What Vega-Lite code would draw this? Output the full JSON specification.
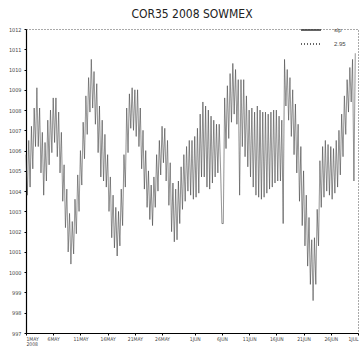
{
  "$schema": "https://vega.github.io/schema/vega-lite/v6.json",
  "autosize": {"type": "none"},
  "padding": {"left": 26, "top": 29, "right": 2, "bottom": 14},
  "width": 332,
  "height": 304,
  "background": "white",
  "title": {"text": "COR35 2008 SOWMEX", "font": "DejaVu Sans Condensed", "fontSize": 12, "fontWeight": "normal", "color": "#222", "offset": -2},
  "config": {
    "view": {"stroke": "#555", "strokeDash": [1, 2], "strokeWidth": 1},
    "axis": {"grid": false, "labelFont": "DejaVu Sans Condensed", "labelFontSize": 5.5, "labelColor": "#444", "domainColor": "#000", "domainWidth": 1.2, "tickColor": "#000", "tickSize": 2, "title": null}
  },
  "data": {"values": [
    {"d":0,"p":1005.8},{"d":0.25,"p":1003.8},{"d":0.5,"p":1006.5},{"d":0.75,"p":1004.2},
    {"d":1,"p":1007.2},{"d":1.25,"p":1005.1},{"d":1.5,"p":1008.1},{"d":1.75,"p":1006.2},
    {"d":2,"p":1009.1},{"d":2.25,"p":1006.2},{"d":2.5,"p":1008.1},{"d":2.75,"p":1004.9},
    {"d":3,"p":1006.9},{"d":3.25,"p":1003.8},{"d":3.5,"p":1006.4},{"d":3.75,"p":1004.5},
    {"d":4,"p":1007.5},{"d":4.25,"p":1005.3},{"d":4.5,"p":1008.0},{"d":4.75,"p":1005.9},
    {"d":5,"p":1008.6},{"d":5.25,"p":1006.4},{"d":5.5,"p":1008.6},{"d":5.75,"p":1005.7},
    {"d":6,"p":1007.9},{"d":6.25,"p":1004.9},{"d":6.5,"p":1006.9},{"d":6.75,"p":1003.5},
    {"d":7,"p":1005.3},{"d":7.25,"p":1002.2},{"d":7.5,"p":1004.1},{"d":7.75,"p":1001.0},
    {"d":8,"p":1002.9},{"d":8.25,"p":1000.4},{"d":8.5,"p":1002.5},{"d":8.75,"p":1000.9},
    {"d":9,"p":1003.6},{"d":9.25,"p":1001.9},{"d":9.5,"p":1004.8},{"d":9.75,"p":1003.0},
    {"d":10,"p":1006.0},{"d":10.25,"p":1004.3},{"d":10.5,"p":1007.4},{"d":10.75,"p":1005.6},
    {"d":11,"p":1008.7},{"d":11.25,"p":1006.8},{"d":11.5,"p":1009.6},{"d":11.75,"p":1007.9},
    {"d":12,"p":1010.5},{"d":12.25,"p":1008.1},{"d":12.5,"p":1009.9},{"d":12.75,"p":1007.3},
    {"d":13,"p":1009.3},{"d":13.25,"p":1005.9},{"d":13.5,"p":1008.2},{"d":13.75,"p":1004.7},
    {"d":14,"p":1007.5},{"d":14.25,"p":1004.5},{"d":14.5,"p":1006.8},{"d":14.75,"p":1004.2},
    {"d":15,"p":1005.8},{"d":15.25,"p":1003.0},{"d":15.5,"p":1004.7},{"d":15.75,"p":1001.7},
    {"d":16,"p":1003.8},{"d":16.25,"p":1001.2},{"d":16.5,"p":1003.2},{"d":16.75,"p":1000.8},
    {"d":17,"p":1003.0},{"d":17.25,"p":1001.3},{"d":17.5,"p":1004.1},{"d":17.75,"p":1002.3},
    {"d":18,"p":1005.8},{"d":18.25,"p":1004.2},{"d":18.5,"p":1008.1},{"d":18.75,"p":1005.9},
    {"d":19,"p":1008.8},{"d":19.25,"p":1007.1},{"d":19.5,"p":1009.1},{"d":19.75,"p":1007.0},
    {"d":20,"p":1009.0},{"d":20.25,"p":1006.7},{"d":20.5,"p":1009.0},{"d":20.75,"p":1006.2},
    {"d":21,"p":1008.1},{"d":21.25,"p":1005.1},{"d":21.5,"p":1007.0},{"d":21.75,"p":1004.1},
    {"d":22,"p":1006.0},{"d":22.25,"p":1003.2},{"d":22.5,"p":1005.0},{"d":22.75,"p":1002.6},
    {"d":23,"p":1004.3},{"d":23.25,"p":1002.3},{"d":23.5,"p":1004.7},{"d":23.75,"p":1003.2},
    {"d":24,"p":1005.8},{"d":24.25,"p":1004.0},{"d":24.5,"p":1006.5},{"d":24.75,"p":1004.8},
    {"d":25,"p":1007.2},{"d":25.25,"p":1005.4},{"d":25.5,"p":1007.1},{"d":25.75,"p":1004.5},
    {"d":26,"p":1006.5},{"d":26.25,"p":1003.3},{"d":26.5,"p":1005.4},{"d":26.75,"p":1002.0},
    {"d":27,"p":1004.4},{"d":27.25,"p":1001.5},{"d":27.5,"p":1004.1},{"d":27.75,"p":1001.6},
    {"d":28,"p":1004.5},{"d":28.25,"p":1002.4},{"d":28.5,"p":1005.2},{"d":28.75,"p":1003.1},
    {"d":29,"p":1005.8},{"d":29.25,"p":1003.5},{"d":29.5,"p":1006.2},{"d":29.75,"p":1004.0},
    {"d":30,"p":1006.5},{"d":30.25,"p":1003.8},{"d":30.5,"p":1006.5},{"d":30.75,"p":1003.6},
    {"d":31,"p":1006.7},{"d":31.25,"p":1003.7},{"d":31.5,"p":1007.1},{"d":31.75,"p":1003.9},
    {"d":32,"p":1007.8},{"d":32.25,"p":1004.7},{"d":32.5,"p":1008.4},{"d":32.75,"p":1004.7},
    {"d":33,"p":1008.2},{"d":33.25,"p":1004.2},{"d":33.5,"p":1008.0},{"d":33.75,"p":1004.1},
    {"d":34,"p":1007.7},{"d":34.25,"p":1004.4},{"d":34.5,"p":1007.5},{"d":34.75,"p":1004.7},
    {"d":35,"p":1007.3},{"d":35.25,"p":1004.9},{"d":35.5,"p":1007.3},{"d":35.75,"p":1005.1},
    {"d":36,"p":1002.4},{"d":36.25,"p":1002.4},{"d":36.5,"p":1008.6},{"d":36.75,"p":1006.1},
    {"d":37,"p":1009.2},{"d":37.25,"p":1006.6},{"d":37.5,"p":1009.8},{"d":37.75,"p":1007.4},
    {"d":38,"p":1010.3},{"d":38.25,"p":1007.8},{"d":38.5,"p":1010.0},{"d":38.75,"p":1007.3},
    {"d":39,"p":1009.5},{"d":39.25,"p":1003.8},{"d":39.5,"p":1009.5},{"d":39.75,"p":1006.2},
    {"d":40,"p":1009.5},{"d":40.25,"p":1005.7},{"d":40.5,"p":1008.7},{"d":40.75,"p":1005.2},
    {"d":41,"p":1008.0},{"d":41.25,"p":1004.7},{"d":41.5,"p":1008.1},{"d":41.75,"p":1004.2},
    {"d":42,"p":1007.9},{"d":42.25,"p":1003.8},{"d":42.5,"p":1008.2},{"d":42.75,"p":1003.7},
    {"d":43,"p":1008.0},{"d":43.25,"p":1003.6},{"d":43.5,"p":1007.9},{"d":43.75,"p":1003.7},
    {"d":44,"p":1007.9},{"d":44.25,"p":1003.9},{"d":44.5,"p":1007.8},{"d":44.75,"p":1004.1},
    {"d":45,"p":1007.9},{"d":45.25,"p":1004.2},{"d":45.5,"p":1008.0},{"d":45.75,"p":1004.4},
    {"d":46,"p":1008.0},{"d":46.25,"p":1004.5},{"d":46.5,"p":1007.7},{"d":46.75,"p":1004.5},
    {"d":47,"p":1007.5},{"d":47.25,"p":1002.4},{"d":47.5,"p":1010.5},{"d":47.75,"p":1008.2},
    {"d":48,"p":1010.0},{"d":48.25,"p":1007.5},{"d":48.5,"p":1009.6},{"d":48.75,"p":1006.7},
    {"d":49,"p":1009.0},{"d":49.25,"p":1005.8},{"d":49.5,"p":1008.3},{"d":49.75,"p":1004.9},
    {"d":50,"p":1007.3},{"d":50.25,"p":1003.5},{"d":50.5,"p":1006.2},{"d":50.75,"p":1002.3},
    {"d":51,"p":1005.0},{"d":51.25,"p":1001.3},{"d":51.5,"p":1003.8},{"d":51.75,"p":1000.3},
    {"d":52,"p":1002.7},{"d":52.25,"p":999.4},{"d":52.5,"p":1001.6},{"d":52.75,"p":998.6},
    {"d":53,"p":1001.7},{"d":53.25,"p":999.4},{"d":53.5,"p":1003.1},{"d":53.75,"p":1001.3},
    {"d":54,"p":1005.5},{"d":54.25,"p":1003.2},{"d":54.5,"p":1006.2},{"d":54.75,"p":1003.7},
    {"d":55,"p":1006.5},{"d":55.25,"p":1004.0},{"d":55.5,"p":1006.3},{"d":55.75,"p":1003.8},
    {"d":56,"p":1006.2},{"d":56.25,"p":1003.6},{"d":56.5,"p":1006.1},{"d":56.75,"p":1003.9},
    {"d":57,"p":1006.5},{"d":57.25,"p":1004.2},{"d":57.5,"p":1007.0},{"d":57.75,"p":1004.8},
    {"d":58,"p":1007.8},{"d":58.25,"p":1005.7},{"d":58.5,"p":1008.7},{"d":58.75,"p":1006.8},
    {"d":59,"p":1009.5},{"d":59.25,"p":1007.9},{"d":59.5,"p":1010.1},{"d":59.75,"p":1008.4},
    {"d":60,"p":1010.5},{"d":60.25,"p":1004.5},{"d":60.5,"p":1010.8}
  ]},
  "mark": {"type": "line", "stroke": "#3a3a3a", "strokeWidth": 0.6, "strokeDash": [1, 1], "interpolate": "linear"},
  "encoding": {
    "x": {"field": "d", "type": "quantitative",
      "scale": {"domain": [0, 61], "nice": false, "zero": false},
      "axis": {"values": [0,5,10,15,20,25,31,36,41,46,51,56,61],
        "labelExpr": "datum.index == 0 ? [upper(timeFormat(datetime(2008,4,1+datum.value),'%-d%b')), '2008'] : upper(timeFormat(datetime(2008,4,1+datum.value),'%-d%b'))",
        "labelPadding": 1, "labelFontSize": 5, "labelLineHeight": 5.5, "labelFlush": true}},
    "y": {"field": "p", "type": "quantitative",
      "scale": {"domain": [997, 1012], "nice": false, "zero": false},
      "axis": {"values": [997,998,999,1000,1001,1002,1003,1004,1005,1006,1007,1008,1009,1010,1011,1012], "format": "d", "labelPadding": 3}},
    "strokeDash": {"datum": "slp",
      "scale": {"domain": ["slp", "2.95"], "range": [[1, 0], [1, 2]]},
      "legend": {"orient": "none", "legendX": 274, "legendY": -10, "title": null, "symbolType": "stroke", "symbolSize": 400, "symbolStrokeWidth": 1.5, "symbolStrokeColor": "#333", "labelFontSize": 6, "labelColor": "#444", "labelOffset": 12, "rowPadding": -1, "padding": 0}}
  }
}
